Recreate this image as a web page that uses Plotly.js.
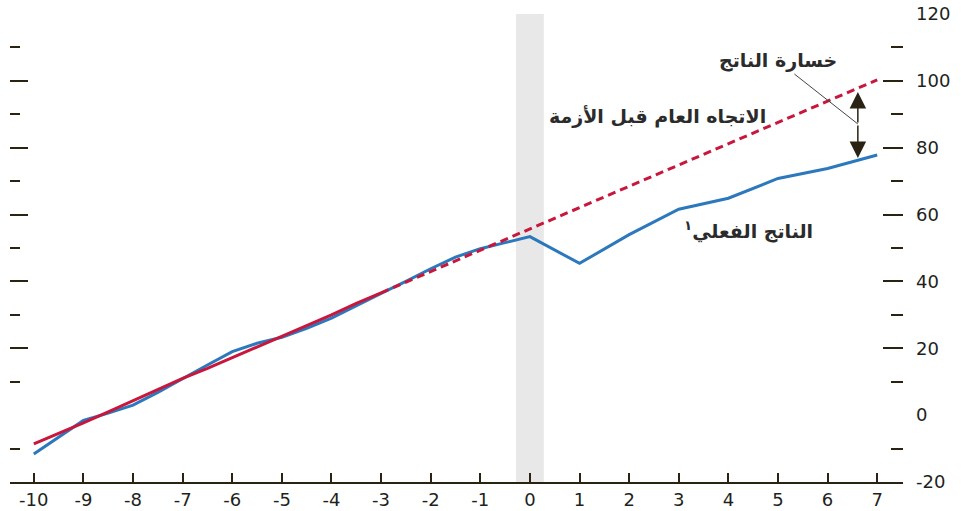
<!DOCTYPE html>
<html>
<head>
<meta charset="utf-8">
<script src="https://cdn.plot.ly/plotly-3.0.1.min.js"></script>
<style>
html, body { margin: 0; padding: 0; background: #ffffff; }
#chart { width: 961px; height: 511px; }
</style>
</head>
<body>
<div id="chart"></div>
<script>
// ---- Data ----
const actualX = [-10, -9.5, -9, -8.5, -8, -7.5, -7, -6.5, -6, -5.5, -5, -4.5, -4, -3.5, -3, -2.5, -2, -1.5, -1, -0.5, 0, 1, 2, 3, 4, 5, 6, 7];
const actualY = [-11.6, -6.5, -1.6, 0.6, 3.0, 6.8, 11.0, 15.0, 19.0, 21.5, 23.3, 26.0, 29.0, 32.8, 36.4, 40.0, 43.8, 47.3, 49.8, 51.6, 53.4, 45.4, 54.0, 61.6, 64.9, 70.8, 73.8, 77.8];

const trendPastX = [-10, -9.5, -9, -8.5, -8, -7.5, -7, -6.5, -6, -5.5, -5, -4.5, -4, -3.5, -3];
const trendPastY = [-8.6, -5.5, -2.3, 1.0, 4.3, 7.8, 11.0, 14.0, 17.2, 20.5, 23.5, 26.7, 30.0, 33.4, 36.6];

const trendProjX = [-3, 7];
const trendProjY = [36.6, 100.3];

const xTickVals = [-10, -9, -8, -7, -6, -5, -4, -3, -2, -1, 0, 1, 2, 3, 4, 5, 6, 7];
const xTickText = ['-10', '-9', '-8', '-7', '-6', '-5', '-4', '-3', '-2', '-1', '0', '1', '2', '3', '4', '5', '6', '7'];

const yLabelVals = [-20, 0, 20, 40, 60, 80, 100, 120];
const yLabelText = ['-20', '0', '20', '40', '60', '80', '100', '120'];
const yMajorTicks = [20, 40, 60, 80, 100, 120];
const yMinorTicks = [-10, 10, 30, 50, 70, 90, 110];

const crisisBand = [-0.28, 0.28];
const lossX = 6.61;
const lossTop = 96.7;
const lossBottom = 76.9;
const lossMid = 87.1;

const labelTrend = 'الاتجاه العام قبل الأزمة';
const labelActual = 'الناتج الفعلي<sup>١</sup>';
const labelLoss = 'خسارة الناتج';

// ---- Styling ----
const ink = '#2a2313';
const textColor = '#231f20';
const blue = '#1a6cb6';
const red = '#c8173c';
const numFont = { family: 'DejaVu Sans, sans-serif', size: 18, color: textColor };
const arFont = { family: 'DejaVu Sans, sans-serif', size: 19, weight: 'bold', color: '#2b2b2b' };
const yRange = [-20, 120];
const xRange = [-10.48, 7.52];

const traces = [
  {
    x: trendPastX, y: trendPastY, type: 'scatter', mode: 'lines', yaxis: 'y2',
    line: { color: red, width: 3 }, hoverinfo: 'skip'
  },
  {
    x: trendProjX, y: trendProjY, type: 'scatter', mode: 'lines', yaxis: 'y3',
    line: { color: red, width: 3, dash: '8px,5px' }, hoverinfo: 'skip'
  },
  {
    x: actualX, y: actualY, type: 'scatter', mode: 'lines', yaxis: 'y',
    line: { color: blue, width: 3 }, opacity: 0.92, hoverinfo: 'skip'
  }
];

const layout = {
  width: 961,
  height: 511,
  margin: { l: 10, r: 58, t: 14, b: 29, pad: 0 },
  paper_bgcolor: '#ffffff',
  plot_bgcolor: '#ffffff',
  showlegend: false,
  xaxis: {
    range: xRange, fixedrange: true,
    tickmode: 'array', tickvals: xTickVals, ticktext: xTickText,
    ticks: 'inside', ticklen: 9, tickwidth: 2, tickcolor: ink,
    showline: true, linecolor: ink, linewidth: 2,
    showgrid: false, zeroline: false,
    tickfont: numFont
  },
  yaxis: {
    range: yRange, fixedrange: true, side: 'left',
    tickmode: 'array', tickvals: yMajorTicks,
    ticks: 'inside', ticklen: 18, tickwidth: 2, tickcolor: ink,
    minor: { tickmode: 'array', tickvals: yMinorTicks, ticks: 'inside', ticklen: 10, tickwidth: 2, tickcolor: ink, showgrid: false },
    showticklabels: false, showline: false, showgrid: false, zeroline: false
  },
  yaxis2: {
    range: yRange, fixedrange: true, overlaying: 'y', side: 'right',
    tickmode: 'array', tickvals: yMajorTicks,
    ticks: 'inside', ticklen: 20, tickwidth: 2, tickcolor: ink,
    minor: { tickmode: 'array', tickvals: yMinorTicks, ticks: 'inside', ticklen: 12, tickwidth: 2, tickcolor: ink, showgrid: false },
    showticklabels: false, showline: false, showgrid: false, zeroline: false
  },
  yaxis3: {
    range: yRange, fixedrange: true, overlaying: 'y', side: 'right',
    tickmode: 'array', tickvals: yLabelVals, ticktext: yLabelText,
    ticks: '', ticklabelstandoff: 12,
    tickfont: numFont,
    showline: false, showgrid: false, zeroline: false
  },
  shapes: [
    {
      type: 'rect', xref: 'x', yref: 'y', layer: 'below',
      x0: crisisBand[0], x1: crisisBand[1], y0: yRange[0], y1: yRange[1],
      fillcolor: '#e8e8e8', line: { width: 0 }
    }
  ],
  annotations: [
    {
      x: 2.58, y: 89.2, xref: 'x', yref: 'y', text: labelTrend,
      showarrow: false, font: arFont
    },
    {
      x: 4.40, y: 55.3, xref: 'x', yref: 'y', text: labelActual,
      showarrow: false, font: arFont
    },
    {
      x: lossX, y: lossMid, xref: 'x', yref: 'y', text: labelLoss,
      showarrow: true, arrowhead: 0, arrowwidth: 1, arrowcolor: '#444444',
      ax: -80, ay: -63, standoff: 0, font: arFont
    },
    {
      x: lossX, y: lossTop, xref: 'x', yref: 'y', axref: 'x', ayref: 'y',
      ax: lossX, ay: lossMid, text: '', showarrow: true,
      arrowhead: 2, arrowsize: 2.2, arrowwidth: 1.5, arrowcolor: ink
    },
    {
      x: lossX, y: lossBottom, xref: 'x', yref: 'y', axref: 'x', ayref: 'y',
      ax: lossX, ay: lossMid, text: '', showarrow: true,
      arrowhead: 2, arrowsize: 2.2, arrowwidth: 1.5, arrowcolor: ink
    }
  ]
};

Plotly.newPlot('chart', traces, layout, { displayModeBar: false, staticPlot: true });
</script>
</body>
</html>
